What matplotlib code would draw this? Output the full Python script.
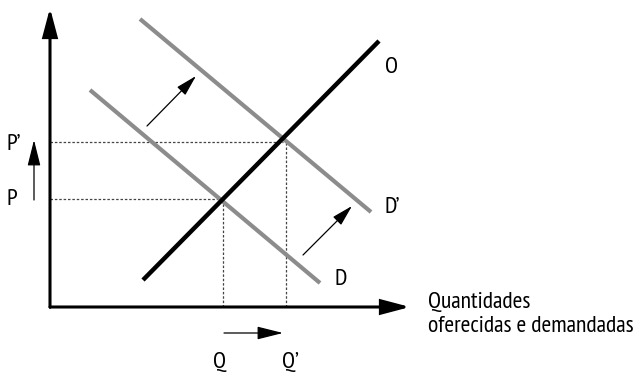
import matplotlib
matplotlib.use("Agg")
import matplotlib.pyplot as plt

plt.rcParams['font.family'] = ['PT Sans Narrow', 'DejaVu Sans']

# Diagram data (origin at the axes corner)
supply_x = [93, 329]
supply_y = [27, 266]
demand_x = [40, 270]
demand_y = [217, 24]
demand2_x = [90, 321]
demand2_y = [288, 95]
price_levels = [108, 165]     # P, P'
qty_levels = [173, 236]       # Q, Q'
eq_x = [171, 233]             # intersection x for horizontal dotted guides
shift_arrows = [((97, 181), (146, 231)), ((253, 52), (302, 101))]
qty_arrow = ((174, -26), (233, -26))
price_arrow = ((-16, 107), (-16, 167))
axis_x_end = 360
axis_y_end = 299

fig = plt.figure(figsize=(6.38, 3.74), dpi=100)
ax = fig.add_axes([0, 0, 1, 1])
ax.set_xlim(-50, 588)
ax.set_ylim(-67, 307)
ax.axis('off')

fs = 17
gray = '#8c8c8c'

# axes with arrows
for end in [(axis_x_end, 0), (0, axis_y_end)]:
    ax.annotate('', xy=end, xytext=(0, 0),
                arrowprops=dict(arrowstyle='-|>,head_length=1.7,head_width=0.45',
                                mutation_scale=10, lw=2.2, color='black',
                                shrinkA=0, shrinkB=0, joinstyle='miter'))
ax.plot([-1.2, 0], [0, 0], color='black', lw=2.2, solid_capstyle='butt')

# dotted guides
for p, qx, q in zip(price_levels, eq_x, qty_levels):
    ax.plot([0, qx], [p, p], linestyle=(0, (2, 1.5)), color='#444444', lw=0.9)
    ax.plot([q, q], [0, p], linestyle=(0, (2, 1.5)), color='#444444', lw=0.9)

# curves
ax.plot(demand_x, demand_y, color=gray, lw=3.0, solid_capstyle='butt')
ax.plot(demand2_x, demand2_y, color=gray, lw=3.0, solid_capstyle='butt')
ax.plot(supply_x, supply_y, color='black', lw=3.2, solid_capstyle='butt')

# shift arrows
for a, b in shift_arrows:
    ax.annotate('', xy=b, xytext=a,
                arrowprops=dict(arrowstyle='-|>,head_length=1.3,head_width=0.35',
                                mutation_scale=10, lw=0.9, color='black',
                                shrinkA=0, shrinkB=0))
for a, b in [qty_arrow, price_arrow]:
    ax.annotate('', xy=b, xytext=a,
                arrowprops=dict(arrowstyle='-|>,head_length=1.6,head_width=0.4',
                                mutation_scale=10, lw=0.9, color='black',
                                shrinkA=0, shrinkB=0))

# labels
ax.text(335, 234, 'O', fontsize=fs, va='baseline', ha='left')
ax.text(335, 94, 'D\u2019', fontsize=fs, va='baseline', ha='left')
ax.text(285, 22, 'D', fontsize=fs, va='baseline', ha='left')
ax.text(-43, 157, 'P\u2019', fontsize=fs, va='baseline', ha='left')
ax.text(-43, 102, 'P', fontsize=fs, va='baseline', ha='left')
ax.text(163, -61, 'Q', fontsize=fs, va='baseline', ha='left')
ax.text(232, -61, 'Q\u2019', fontsize=fs, va='baseline', ha='left')
ax.text(378, -1, 'Quantidades', fontsize=fs, va='baseline', ha='left')
ax.text(378, -25, 'oferecidas e demandadas', fontsize=fs, va='baseline', ha='left')

fig.savefig('out.png', dpi=100)
